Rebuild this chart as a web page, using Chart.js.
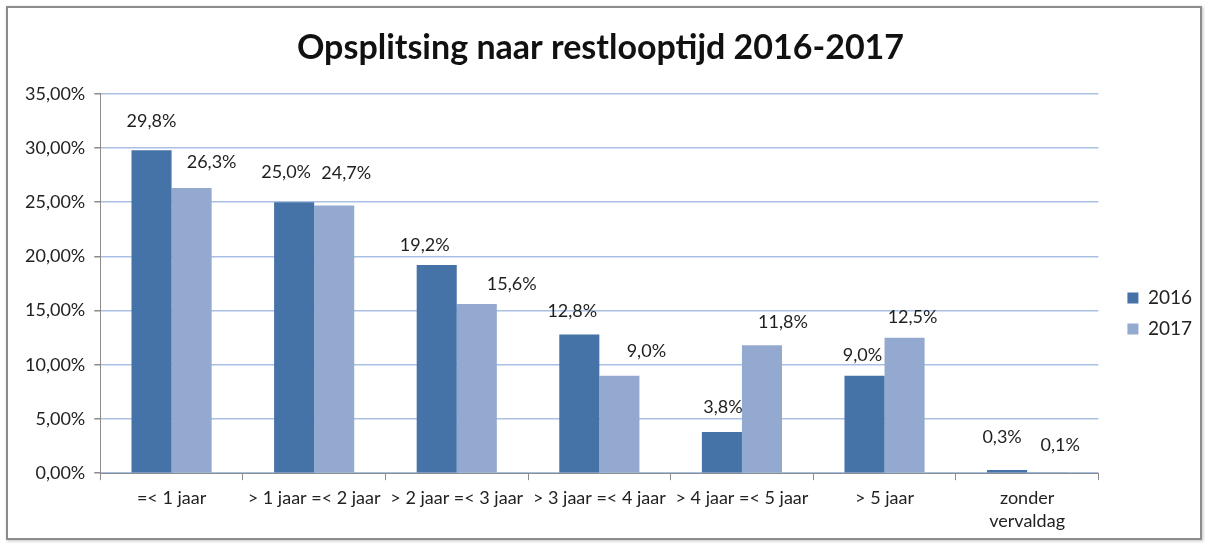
<!DOCTYPE html>
<html>
<head>
<meta charset="utf-8">
<script src="https://cdn.jsdelivr.net/npm/chart.js@4.4.0/dist/chart.umd.min.js"></script>
<style>
  body { margin: 0; background: #fff; }
  #wrap { position: relative; width: 1205px; height: 545px; }
  #frame {
    position: absolute; left: 6px; top: 6px; width: 1192px; height: 530px;
    border: 2px solid #8c8c8c; box-shadow: 1px 1px 3px rgba(0,0,0,0.25);
    pointer-events: none;
  }
  canvas { position: absolute; left: 0; top: 0; }
</style>
</head>
<body>
<div id="wrap">
  <canvas id="chart" width="1205" height="545"></canvas>
  <div id="frame"></div>
</div>
<script>
const categories = [
  "=< 1 jaar",
  "> 1 jaar =< 2 jaar",
  "> 2 jaar =< 3 jaar",
  "> 3 jaar =< 4 jaar",
  "> 4 jaar =< 5 jaar",
  "> 5 jaar",
  ["zonder", "vervaldag"]
]
const values2016 = [29.8, 25.0, 19.2, 12.8, 3.8, 9.0, 0.3]
const values2017 = [26.3, 24.7, 15.6, 9.0, 11.8, 12.5, 0.1]
const yTicks = [0, 5, 10, 15, 20, 25, 30, 35]

const chartFont = "Lato, 'Open Sans', sans-serif"

// label positions were hand-tweaked in the original, so nudge them (dx, dy from bar top)
const labelNudge = [
  [[0, -29], [-8, -30], [-12, -20], [-7, -23], [1, -25], [-2, -20], [-5, -33]],
  [[20, -26], [12, -32], [35, -20], [27, -24], [21, -23], [8, -21], [13, -27]]
]

const fmtComma = (n, d) => n.toFixed(d).replace(".", ",")

const barLabels = {
  id: "barLabels",
  afterDatasetsDraw(chart) {
    const ctx = chart.ctx
    ctx.save()
    ctx.font = "18px " + chartFont
    ctx.fillStyle = "#1f1f1f"
    ctx.textAlign = "center"
    ctx.textBaseline = "middle"
    chart.data.datasets.forEach((ds, i) => {
      chart.getDatasetMeta(i).data.forEach((bar, j) => {
        const nudge = labelNudge[i][j]
        ctx.fillText(fmtComma(ds.data[j], 1) + "%", bar.x + nudge[0], bar.y + nudge[1])
      })
    })
    ctx.restore()
  }
}

// excel put the legend a bit further right and lower than chart.js does
const legendShift = {
  id: "legendShift",
  afterLayout(chart) {
    const lg = chart.legend
    lg.left += 17; lg.right += 17
    lg.top += 35; lg.bottom += 35
  }
}

function makeChart() {
  window.chart = new Chart(document.getElementById("chart"), {
    type: "bar",
    data: {
      labels: categories,
      datasets: [
        { label: "2016", data: values2016, backgroundColor: "#4572a7", borderWidth: 0 },
        { label: "2017", data: values2017, backgroundColor: "#93a9cf", borderWidth: 0 }
      ]
    },
    options: {
      responsive: false,
      animation: false,
      layout: { padding: { left: 16, right: 20, top: 18, bottom: 6 } },
      datasets: { bar: { categoryPercentage: 0.562, barPercentage: 1.0 } },
      plugins: {
        title: {
          display: true,
          text: "Opsplitsing naar restlooptijd 2016-2017",
          color: "#111",
          font: { family: chartFont, size: 34, weight: "bold" },
          padding: { top: 10, bottom: 25 }
        },
        legend: {
          position: "right",
          labels: {
            color: "#222",
            font: { family: chartFont, size: 19 },
            boxWidth: 11,
            boxHeight: 11,
            padding: 12
          }
        },
        tooltip: { enabled: false }
      },
      scales: {
        x: {
          grid: {
            offset: true,
            drawOnChartArea: false,
            drawTicks: true,
            tickLength: 7,
            tickColor: "#8c8c8c"
          },
          border: { color: "#8c8c8c", width: 1 },
          ticks: {
            color: "#222",
            font: { family: chartFont, size: 18, lineHeight: 1.3 },
            maxRotation: 0,
            autoSkip: false,
            padding: 6
          }
        },
        y: {
          min: 0,
          max: 35,
          afterBuildTicks: axis => { axis.ticks = yTicks.map(v => ({ value: v })) },
          grid: {
            color: "#a9c0e4",
            lineWidth: 1.5,
            drawTicks: true,
            tickLength: 6,
            tickColor: "#8c8c8c"
          },
          border: { color: "#8c8c8c", width: 1 },
          ticks: {
            color: "#222",
            font: { family: chartFont, size: 18 },
            padding: 9,
            callback: v => fmtComma(v, 2) + "%"
          }
        }
      }
    },
    plugins: [barLabels, legendShift]
  })
}

makeChart()
</script>
</body>
</html>
